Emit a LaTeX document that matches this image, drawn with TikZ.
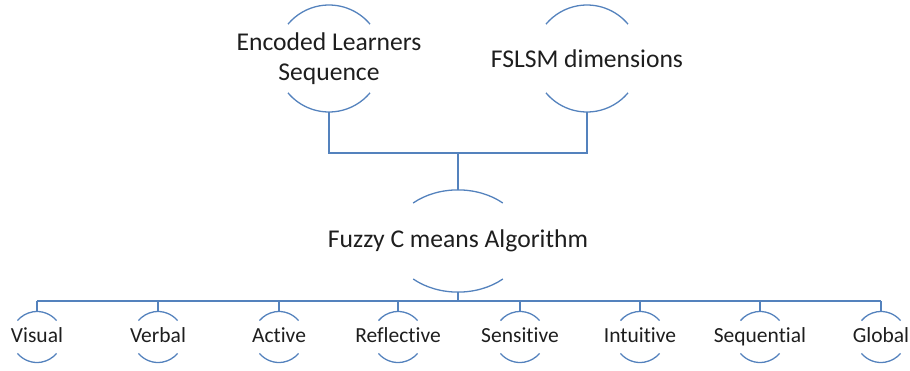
\documentclass[tikz,border=0pt]{standalone}
\usepackage{fontspec}
\setmainfont{Carlito}[Ligatures=NoCommon]
\usetikzlibrary{shapes.geometric}
\definecolor{linkblue}{RGB}{84,130,189}
\definecolor{inktext}{RGB}{30,30,30}
\tikzset{
  conn/.style={draw=linkblue, line width=1.6pt},
  rim/.style={draw=linkblue, line width=1.3pt},
  bigring/.style={circle, minimum size=107pt, inner sep=0pt, draw=none},
  smallring/.style={circle, minimum size=51pt, inner sep=0pt, draw=none},
  bigtext/.style={text=inktext, font=\fontsize{25.6}{30.5}\selectfont, align=center},
  smalltext/.style={text=inktext, font=\fontsize{21.5}{26}\selectfont,
                    text height=15pt, text depth=5pt, inner sep=0pt},
}
\begin{document}
\begin{tikzpicture}[x=1pt, y=1pt]
\useasboundingbox (0,0) rectangle (910,370);

% top inputs
\node[bigring] (enc) at (329,311.5) {};
\node[bigtext] (enctext) at (enc.center) {Encoded Learners\\Sequence};
\node[bigring] (fslsm) at (587,311.5) {};
\node[bigtext] (fslsmtext) at (fslsm.center) {FSLSM dimensions};

% open rings: top and bottom arcs only
\foreach \n in {enc,fslsm}{
  \draw[rim] ([shift={(40:53.5pt)}]\n.center) arc[start angle=40, end angle=140, radius=53.5pt];
  \draw[rim] ([shift={(220:53.5pt)}]\n.center) arc[start angle=220, end angle=320, radius=53.5pt];
}

% clustering step
\node[ellipse, minimum width=134pt, minimum height=102pt, inner sep=0pt, draw=none] (fcm) at (458,129) {};
\node[bigtext] (fcmtext) at (fcm.center) {Fuzzy C means Algorithm};
\draw[rim] ([shift={(44.8pt,38pt)}]fcm.center) arc[start angle=48, end angle=132, x radius=67pt, y radius=51pt];
\draw[rim] ([shift={(-44.8pt,-38pt)}]fcm.center) arc[start angle=228, end angle=312, x radius=67pt, y radius=51pt];

% joining the inputs
\coordinate (topbar) at (458,217);
\draw[conn] (enc.south) |- (topbar) -| (fslsm.south);
\draw[conn] (topbar) -- (fcm.north);

% output styles
\foreach \nm/\x/\lab in {vis/37/Visual, ver/158/Verbal, act/279/Active, ref/398/Reflective,
                         sen/520/Sensitive, int/640/Intuitive, seq/760/Sequential, glo/881/Global}{
  \node[smallring] (\nm) at (\x,33) {};
  \node[smalltext] (\nm text) at (\nm.center) {\lab};
  \draw[rim] ([shift={(40:25.5pt)}]\nm.center) arc[start angle=40, end angle=140, radius=25.5pt];
  \draw[rim] ([shift={(220:25.5pt)}]\nm.center) arc[start angle=220, end angle=320, radius=25.5pt];
}

\coordinate (bus) at (458,69);
\draw[conn] (fcm.south) -- (bus);
\draw[conn] (vis.north |- bus) -- (glo.north |- bus);
\foreach \nm in {vis,ver,act,ref,sen,int,seq,glo}{
  \draw[conn] (\nm.north |- bus) -- (\nm.north);
}
\end{tikzpicture}
\end{document}
